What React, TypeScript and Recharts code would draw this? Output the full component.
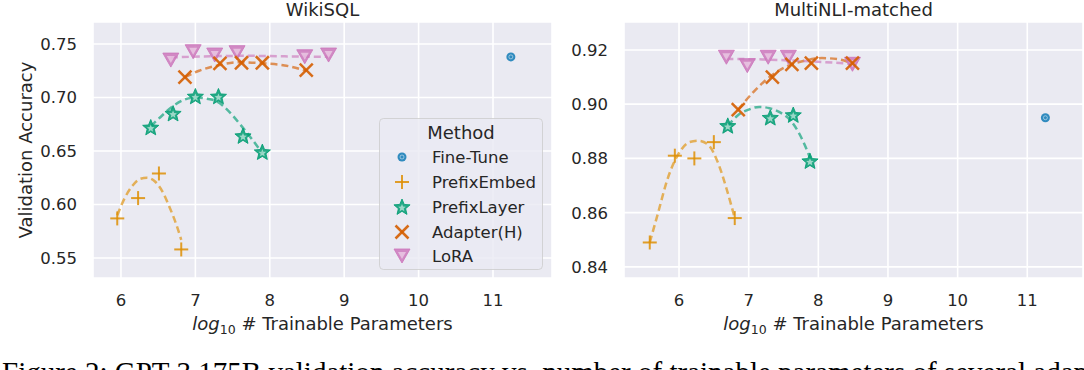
import React from 'react';
import { ComposedChart, Line, Scatter, XAxis, YAxis, CartesianGrid } from 'recharts';

const methods = ['Fine-Tune', 'PrefixEmbed', 'PrefixLayer', 'Adapter(H)', 'LoRA'];
const fitted = ['PrefixEmbed', 'PrefixLayer', 'Adapter(H)', 'LoRA'];
const drawOrder = ['Fine-Tune', 'PrefixEmbed', 'PrefixLayer', 'LoRA', 'Adapter(H)'];

const colors: Record<string, string> = {
  'Fine-Tune': '#0173B2',
  PrefixEmbed: '#DE8F05',
  PrefixLayer: '#029E73',
  'Adapter(H)': '#D55E00',
  LoRA: '#CC78BC',
};

const xTicks = [6, 7, 8, 9, 10, 11];
const wikiTicks = [0.55, 0.6, 0.65, 0.7, 0.75];
const mnliTicks = [0.84, 0.86, 0.88, 0.9, 0.92];

// WikiSQL measured points
const wikiFineTune = [{ x: 11.24, y: 0.738 }];
const wikiPrefixEmbed = [
  { x: 5.95, y: 0.587 }, { x: 6.23, y: 0.606 }, { x: 6.51, y: 0.629 }, { x: 6.81, y: 0.558 },
];
const wikiPrefixLayer = [
  { x: 6.40, y: 0.672 }, { x: 6.70, y: 0.685 }, { x: 7.00, y: 0.701 },
  { x: 7.31, y: 0.701 }, { x: 7.64, y: 0.664 }, { x: 7.90, y: 0.649 },
];
const wikiAdapter = [
  { x: 6.86, y: 0.719 }, { x: 7.33, y: 0.732 }, { x: 7.62, y: 0.7325 },
  { x: 7.90, y: 0.7325 }, { x: 8.49, y: 0.7257 },
];
const wikiLoRA = [
  { x: 6.67, y: 0.735 }, { x: 6.97, y: 0.7428 }, { x: 7.26, y: 0.7397 },
  { x: 7.56, y: 0.7419 }, { x: 8.47, y: 0.7381 }, { x: 8.79, y: 0.7397 },
];

// WikiSQL dashed fit curves
const wikiFitPrefixEmbed = [
  { x: 5.95, y: 0.590 }, { x: 6.05, y: 0.606 }, { x: 6.16, y: 0.618 }, { x: 6.26, y: 0.624 },
  { x: 6.35, y: 0.625 }, { x: 6.45, y: 0.622 }, { x: 6.55, y: 0.613 }, { x: 6.65, y: 0.598 },
  { x: 6.75, y: 0.580 }, { x: 6.81, y: 0.567 },
];
const wikiFitPrefixLayer = [
  { x: 6.40, y: 0.673 }, { x: 6.55, y: 0.683 }, { x: 6.70, y: 0.692 }, { x: 6.85, y: 0.698 },
  { x: 7.00, y: 0.700 }, { x: 7.15, y: 0.699 }, { x: 7.30, y: 0.696 }, { x: 7.45, y: 0.687 },
  { x: 7.60, y: 0.675 }, { x: 7.75, y: 0.662 }, { x: 7.90, y: 0.648 },
];
const wikiFitAdapter = [
  { x: 6.86, y: 0.719 }, { x: 7.05, y: 0.725 }, { x: 7.30, y: 0.730 }, { x: 7.60, y: 0.733 },
  { x: 7.90, y: 0.732 }, { x: 8.20, y: 0.730 }, { x: 8.49, y: 0.725 },
];
const wikiFitLoRA = [
  { x: 6.67, y: 0.7375 }, { x: 7.20, y: 0.7385 }, { x: 7.70, y: 0.739 },
  { x: 8.20, y: 0.7385 }, { x: 8.79, y: 0.738 },
];

// MultiNLI-matched measured points
const mnliFineTune = [{ x: 11.26, y: 0.895 }];
const mnliPrefixEmbed = [
  { x: 5.58, y: 0.849 }, { x: 5.94, y: 0.881 }, { x: 6.22, y: 0.880 },
  { x: 6.50, y: 0.886 }, { x: 6.80, y: 0.858 },
];
const mnliPrefixLayer = [
  { x: 6.70, y: 0.892 }, { x: 7.31, y: 0.895 }, { x: 7.64, y: 0.896 }, { x: 7.88, y: 0.879 },
];
const mnliAdapter = [
  { x: 6.85, y: 0.898 }, { x: 7.34, y: 0.910 }, { x: 7.62, y: 0.9147 },
  { x: 7.90, y: 0.9151 }, { x: 8.49, y: 0.9151 },
];
const mnliLoRA = [
  { x: 6.68, y: 0.9173 }, { x: 6.98, y: 0.9142 }, { x: 7.28, y: 0.9173 },
  { x: 7.57, y: 0.9173 }, { x: 8.49, y: 0.9147 },
];

const mnliFitPrefixEmbed = [
  { x: 5.58, y: 0.849 }, { x: 5.70, y: 0.860 }, { x: 5.83, y: 0.872 }, { x: 6.00, y: 0.882 },
  { x: 6.15, y: 0.886 }, { x: 6.28, y: 0.8865 }, { x: 6.42, y: 0.885 }, { x: 6.55, y: 0.879 },
  { x: 6.68, y: 0.869 }, { x: 6.80, y: 0.858 },
];
const mnliFitPrefixLayer = [
  { x: 6.70, y: 0.892 }, { x: 6.85, y: 0.896 }, { x: 7.00, y: 0.898 }, { x: 7.15, y: 0.899 },
  { x: 7.30, y: 0.8985 }, { x: 7.45, y: 0.897 }, { x: 7.60, y: 0.894 }, { x: 7.75, y: 0.888 },
  { x: 7.90, y: 0.879 },
];
const mnliFitAdapter = [
  { x: 6.85, y: 0.898 }, { x: 7.05, y: 0.904 }, { x: 7.30, y: 0.910 }, { x: 7.55, y: 0.914 },
  { x: 7.80, y: 0.916 }, { x: 8.05, y: 0.917 }, { x: 8.30, y: 0.9165 }, { x: 8.49, y: 0.915 },
];
const mnliFitLoRA = [
  { x: 6.68, y: 0.9167 }, { x: 7.20, y: 0.9165 }, { x: 7.70, y: 0.916 },
  { x: 8.10, y: 0.9155 }, { x: 8.49, y: 0.9148 },
];

const wikiPoints: Record<string, any[]> = {
  'Fine-Tune': wikiFineTune, PrefixEmbed: wikiPrefixEmbed, PrefixLayer: wikiPrefixLayer,
  'Adapter(H)': wikiAdapter, LoRA: wikiLoRA,
};
const wikiFits: Record<string, any[]> = {
  PrefixEmbed: wikiFitPrefixEmbed, PrefixLayer: wikiFitPrefixLayer,
  'Adapter(H)': wikiFitAdapter, LoRA: wikiFitLoRA,
};
const mnliPoints: Record<string, any[]> = {
  'Fine-Tune': mnliFineTune, PrefixEmbed: mnliPrefixEmbed, PrefixLayer: mnliPrefixLayer,
  'Adapter(H)': mnliAdapter, LoRA: mnliLoRA,
};
const mnliFits: Record<string, any[]> = {
  PrefixEmbed: mnliFitPrefixEmbed, PrefixLayer: mnliFitPrefixLayer,
  'Adapter(H)': mnliFitAdapter, LoRA: mnliFitLoRA,
};

const FONT = '"DejaVu Sans", sans-serif';
const TEXT = '#262626';

function starPoints(cx: number, cy: number, ro: number, ri: number) {
  const pts: string[] = [];
  for (let i = 0; i < 10; i++) {
    const r = i % 2 === 0 ? ro : ri;
    const a = -Math.PI / 2 + (i * Math.PI) / 5;
    pts.push(`${cx + r * Math.cos(a)},${cy + r * Math.sin(a)}`);
  }
  return pts.join(' ');
}

function Marker({ method, cx, cy }: { method: string; cx: number; cy: number }) {
  const c = colors[method];
  if (cx == null || cy == null) return null;
  switch (method) {
    case 'Fine-Tune':
      return (
        <g>
          <circle cx={cx} cy={cy} r={4.5} fill={c} fillOpacity={0.8} />
          <circle cx={cx} cy={cy} r={2} fill="none" stroke="#fff" strokeOpacity={0.6} strokeWidth={0.8} />
        </g>
      );
    case 'PrefixEmbed':
      return (
        <g stroke={c} strokeOpacity={0.85} strokeWidth={2}>
          <line x1={cx - 7} y1={cy} x2={cx + 7} y2={cy} />
          <line x1={cx} y1={cy - 7} x2={cx} y2={cy + 7} />
        </g>
      );
    case 'PrefixLayer':
      return (
        <g>
          <polygon points={starPoints(cx, cy + 0.5, 8.5, 3.8)} fill={c} fillOpacity={0.85} stroke={c} strokeOpacity={0.85} strokeWidth={1} strokeLinejoin="round" />
          <polygon points={starPoints(cx, cy + 1, 4, 1.8)} fill="#fff" fillOpacity={0.55} />
        </g>
      );
    case 'Adapter(H)':
      return (
        <g stroke={c} strokeOpacity={0.9} strokeWidth={2.5}>
          <line x1={cx - 6.5} y1={cy - 6.5} x2={cx + 6.5} y2={cy + 6.5} />
          <line x1={cx - 6.5} y1={cy + 6.5} x2={cx + 6.5} y2={cy - 6.5} />
        </g>
      );
    case 'LoRA':
      return (
        <g>
          <polygon points={`${cx - 8},${cy - 7} ${cx + 8},${cy - 7} ${cx},${cy + 7}`} fill={c} fillOpacity={0.85} stroke={c} strokeOpacity={0.85} strokeWidth={1} strokeLinejoin="round" />
          <polygon points={`${cx - 4},${cy - 4} ${cx + 4},${cy - 4} ${cx},${cy + 3}`} fill="#fff" fillOpacity={0.45} />
        </g>
      );
    default:
      return null;
  }
}

const tickStyle = { fontSize: 16.5, fill: TEXT, fontFamily: FONT };

interface PanelProps {
  width: number;
  yWidth: number;
  marginRight: number;
  xDomain: [number, number];
  yDomain: [number, number];
  yTicks: number[];
  points: Record<string, any[]>;
  fits: Record<string, any[]>;
}

function Panel({ width, yWidth, marginRight, xDomain, yDomain, yTicks, points, fits }: PanelProps) {
  return (
    <ComposedChart width={width} height={340} margin={{ top: 22, right: marginRight, bottom: 12, left: 0 }}>
      <CartesianGrid fill="#EAEAF2" stroke="#ffffff" strokeWidth={1.6} />
      <XAxis
        type="number"
        dataKey="x"
        domain={xDomain}
        ticks={xTicks}
        interval={0}
        allowDataOverflow
        axisLine={false}
        tickLine={false}
        tickMargin={10}
        height={50}
        tick={tickStyle}
      />
      <YAxis
        type="number"
        dataKey="y"
        domain={yDomain}
        ticks={yTicks}
        interval={0}
        allowDataOverflow
        axisLine={false}
        tickLine={false}
        tickMargin={10}
        width={yWidth}
        tick={tickStyle}
        tickFormatter={(v: number) => v.toFixed(2)}
      />
      {fitted.map((m) => (
        <Line
          key={'fit-' + m}
          data={fits[m]}
          dataKey="y"
          type="monotone"
          stroke={colors[m]}
          strokeOpacity={0.65}
          strokeWidth={2.5}
          strokeDasharray="7 4"
          dot={false}
          activeDot={false}
          isAnimationActive={false}
        />
      ))}
      {drawOrder.map((m) => (
        <Scatter
          key={m}
          name={m}
          data={points[m]}
          fill={colors[m]}
          shape={(p: any) => <Marker method={m} cx={p.cx} cy={p.cy} />}
          isAnimationActive={false}
        />
      ))}
    </ComposedChart>
  );
}

const legendRows = [157, 182, 207, 232, 256];

function XLabel({ x }: { x: number }) {
  return (
    <text x={x} y={330} textAnchor="middle" fontSize={18} fill={TEXT} fontFamily={FONT}>
      <tspan fontStyle="italic">log</tspan>
      <tspan fontSize={12.5} dy={4}>10</tspan>
      <tspan dy={-4}> # Trainable Parameters</tspan>
    </text>
  );
}

export default function App() {
  return (
    <div style={{ position: 'absolute', left: 0, top: 0, width: 1084, height: 370, overflow: 'hidden', background: '#fff', fontFamily: FONT }}>
      <div style={{ position: 'absolute', left: 0, top: 0 }}>
        <Panel width={560} yWidth={93} marginRight={8} xDomain={[5.624, 11.793]} yDomain={[0.5313, 0.7706]} yTicks={wikiTicks} points={wikiPoints} fits={wikiFits} />
      </div>
      <div style={{ position: 'absolute', left: 560, top: 0 }}>
        <Panel width={524} yWidth={64} marginRight={1} xDomain={[5.21, 11.8]} yDomain={[0.8359, 0.9303]} yTicks={mnliTicks} points={mnliPoints} fits={mnliFits} />
      </div>
      <svg width={1084} height={370} style={{ position: 'absolute', left: 0, top: 0, pointerEvents: 'none' }}>
        <text x={322.5} y={16} textAnchor="middle" fontSize={18} fill={TEXT} fontFamily={FONT}>WikiSQL</text>
        <text x={853.5} y={16} textAnchor="middle" fontSize={18} fill={TEXT} fontFamily={FONT}>MultiNLI-matched</text>
        <text transform="rotate(-90)" x={-150} y={32} textAnchor="middle" fontSize={18} fill={TEXT} fontFamily={FONT}>Validation Accuracy</text>
        <XLabel x={322.5} />
        <XLabel x={853.5} />

        <rect x={379.5} y={118.5} width={163} height={151} rx={4} fill="#EAEAF2" fillOpacity={0.8} stroke="#cccccc" strokeOpacity={0.8} />
        <text x={461} y={138.5} textAnchor="middle" fontSize={18} fill={TEXT} fontFamily={FONT}>Method</text>
        {methods.map((m, i) => (
          <g key={m}>
            <Marker method={m} cx={402} cy={legendRows[i]} />
            <text x={432} y={legendRows[i] + 6} fontSize={16.5} fill={TEXT} fontFamily={FONT}>{m}</text>
          </g>
        ))}

        <text x={2} y={382} fontSize={29} fill="#000" fontFamily='"Liberation Serif", serif'>
          Figure 2: GPT-3 175B validation accuracy vs. number of trainable parameters of several adaptation methods
        </text>
      </svg>
    </div>
  );
}
